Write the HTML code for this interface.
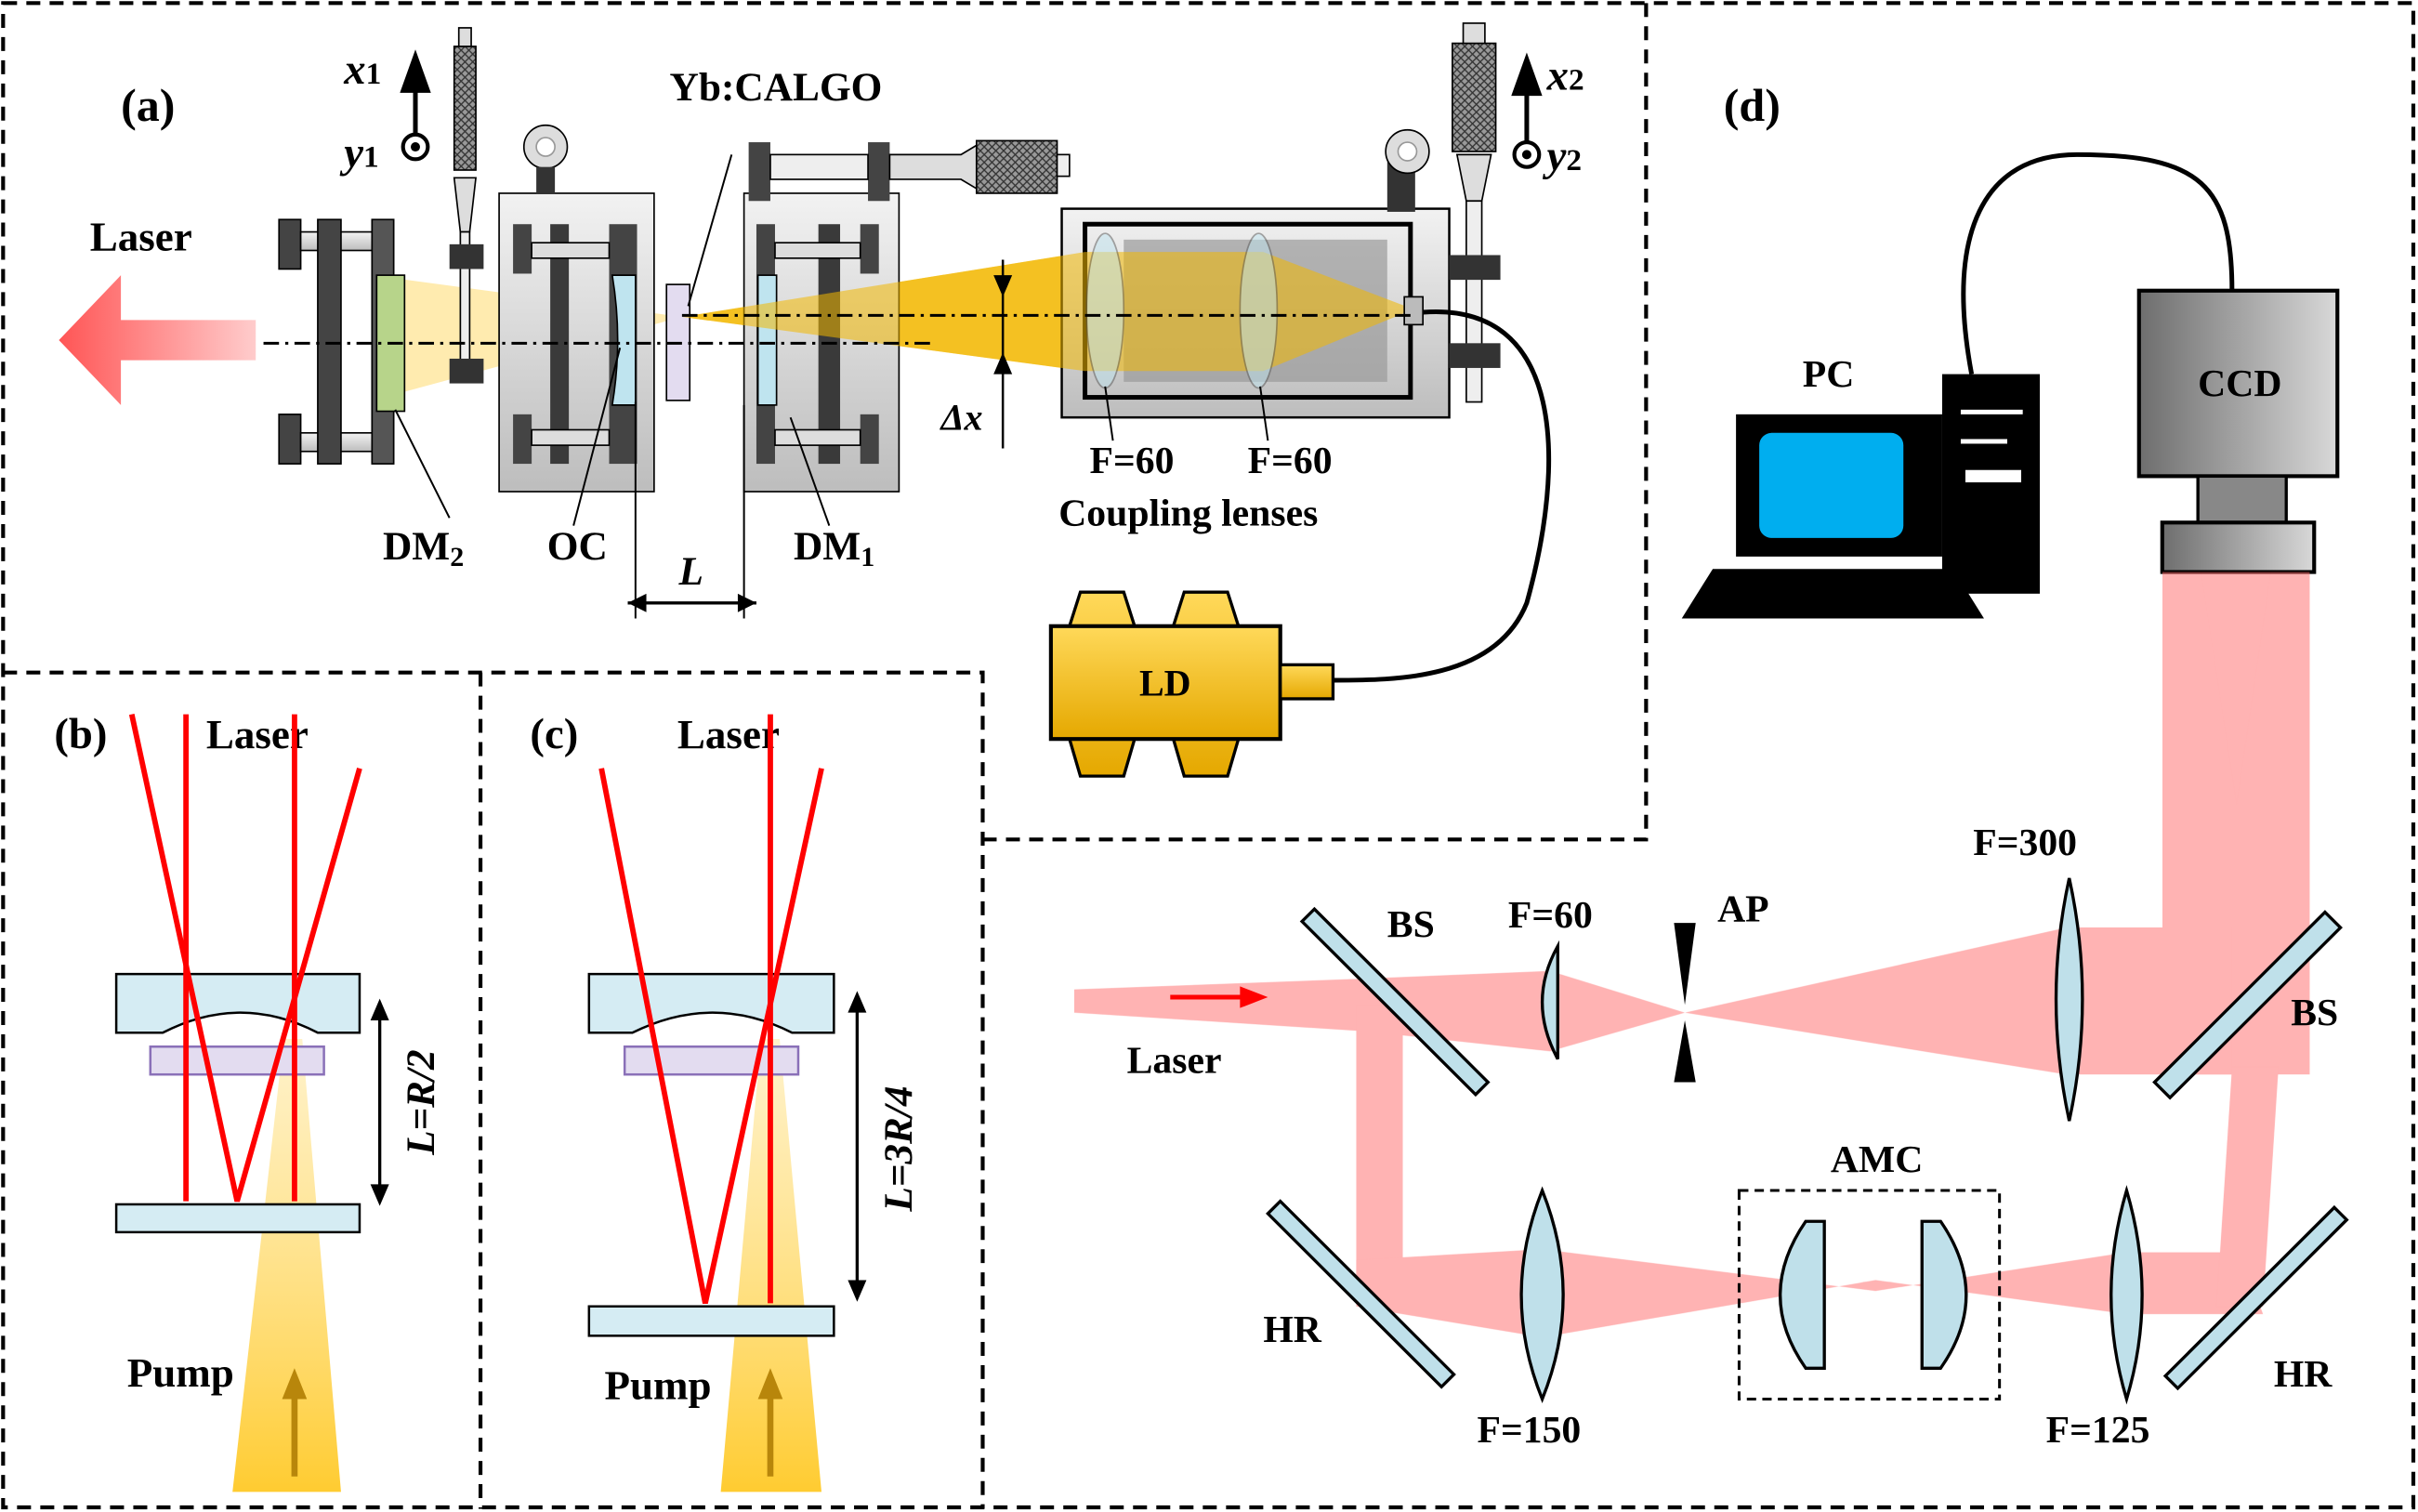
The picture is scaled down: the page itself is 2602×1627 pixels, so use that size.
<!DOCTYPE html>
<html><head><meta charset="utf-8"><style>
html,body{margin:0;padding:0;background:#fff;}
svg{display:block;}
text{font-family:"Liberation Serif",serif;font-weight:bold;fill:#000;}
</style></head><body>
<svg width="2602" height="1627" viewBox="0 0 1560 978" preserveAspectRatio="none" xmlns="http://www.w3.org/2000/svg">
<defs>
<linearGradient id="gy" x1="0" y1="0" x2="0" y2="1"><stop offset="0" stop-color="#f2f2f2"/><stop offset="1" stop-color="#bdbdbd"/></linearGradient>
<linearGradient id="ccd" x1="0" y1="0" x2="1" y2="0"><stop offset="0" stop-color="#6e6e6e"/><stop offset="1" stop-color="#d8d8d8"/></linearGradient>
<linearGradient id="arr" x1="0" y1="0" x2="1" y2="0"><stop offset="0" stop-color="#f55"/><stop offset="1" stop-color="#fcc"/></linearGradient>
<linearGradient id="pump" x1="0" y1="1" x2="0" y2="0"><stop offset="0" stop-color="#ffc61a" stop-opacity="0.9"/><stop offset="1" stop-color="#ffe28a" stop-opacity="0.45"/></linearGradient>
<linearGradient id="ld" x1="0" y1="0" x2="0" y2="1"><stop offset="0" stop-color="#ffd95a"/><stop offset="1" stop-color="#e5a800"/></linearGradient>
<pattern id="knurl" width="5" height="5" patternUnits="userSpaceOnUse"><rect width="5" height="5" fill="#999"/><path d="M0 0L5 5M5 0L0 5" stroke="#333" stroke-width="0.8"/></pattern>
</defs>
<g fill="none" stroke="#000" stroke-width="2.5" stroke-dasharray="9,6">
<rect x="2" y="2" width="1555" height="973"/>
<path d="M1062 2V543H634"/><path d="M2 435H634V976"/><path d="M310 435V976"/>
</g>

<!-- Panel (a) -->
<text x="78" y="78" font-size="30">(a)</text>
<text x="58" y="162" font-size="27">Laser</text>
<path d="M165 207H78V178L38 220L78 262V233H165Z" fill="url(#arr)"/>
<path d="M255 180L440 205L255 255Z" fill="#ffd24d" opacity="0.45"/>
<path d="M440 205L700 163H815L912 200L815 240H700Z" fill="#f3b800" opacity="0.7"/>
<rect x="180" y="142" width="14" height="32" fill="#444" stroke="#000"/><rect x="180" y="268" width="14" height="32" fill="#444" stroke="#000"/>
<rect x="194" y="150" width="50" height="12" fill="url(#gy)" stroke="#000"/><rect x="194" y="280" width="50" height="12" fill="url(#gy)" stroke="#000"/>
<rect x="205" y="142" width="15" height="158" fill="#444" stroke="#000"/>
<rect x="240" y="142" width="14" height="158" fill="#555" stroke="#000"/>
<rect x="243" y="178" width="18" height="88" fill="#b7d48a" stroke="#000"/>
<rect x="293" y="30" width="14" height="80" fill="url(#knurl)" stroke="#000"/>
<rect x="296" y="18" width="8" height="12" fill="#ddd" stroke="#000"/>
<path d="M293 115L307 115L303 150H297Z" fill="#ddd" stroke="#000"/>
<rect x="297" y="150" width="6" height="90" fill="#eee" stroke="#000"/>
<rect x="290" y="158" width="22" height="16" fill="#333"/><rect x="290" y="232" width="22" height="16" fill="#333"/>
<rect x="322" y="125" width="100" height="193" fill="url(#gy)" stroke="#000"/>
<circle cx="352" cy="95" r="14" fill="#ddd" stroke="#000"/><circle cx="352" cy="95" r="6" fill="#fff" stroke="#999"/>
<rect x="346" y="108" width="12" height="17" fill="#333"/>
<rect x="331" y="145" width="12" height="32" fill="#444"/><rect x="331" y="268" width="12" height="32" fill="#444"/>
<rect x="355" y="145" width="12" height="155" fill="#3a3a3a"/>
<rect x="393" y="145" width="18" height="155" fill="#444"/>
<rect x="343" y="157" width="50" height="10" fill="#ddd" stroke="#000"/><rect x="343" y="278" width="50" height="10" fill="#ddd" stroke="#000"/>
<path d="M395 178H410V262H395Q402 220 395 178Z" fill="#bfe4ef" stroke="#000"/>
<rect x="430" y="184" width="15" height="75" fill="#e3dcf0" stroke="#000"/>
<rect x="480" y="125" width="100" height="193" fill="url(#gy)" stroke="#000"/>
<rect x="483" y="92" width="14" height="38" fill="#444"/><rect x="560" y="92" width="14" height="38" fill="#444"/>
<rect x="497" y="100" width="63" height="16" fill="#eee" stroke="#000"/>
<path d="M574 100H620L630 94V122L620 116H574Z" fill="#ddd" stroke="#000"/>
<rect x="630" y="91" width="52" height="34" fill="url(#knurl)" stroke="#000"/>
<rect x="682" y="100" width="8" height="14" fill="#eee" stroke="#000"/>
<rect x="488" y="145" width="12" height="155" fill="#444"/><rect x="528" y="145" width="14" height="155" fill="#3a3a3a"/><rect x="555" y="145" width="12" height="32" fill="#444"/><rect x="555" y="268" width="12" height="32" fill="#444"/>
<rect x="500" y="157" width="55" height="10" fill="#ddd" stroke="#000"/><rect x="500" y="278" width="55" height="10" fill="#ddd" stroke="#000"/>
<rect x="489" y="178" width="12" height="84" fill="#bfe4ef" stroke="#000"/>
<rect x="685" y="135" width="250" height="135" fill="url(#gy)" stroke="#000" stroke-width="1.5"/>
<rect x="700" y="145" width="210" height="112" fill="none" stroke="#000" stroke-width="3"/>
<rect x="725" y="155" width="170" height="92" fill="#9a9a9a" opacity="0.7"/>
<path d="M440 205L700 163H815L912 200L815 240H700Z" fill="#f3b800" opacity="0.55"/>
<ellipse cx="713" cy="201" rx="12" ry="50" fill="#bfe4ef" opacity="0.5" stroke="#555"/>
<ellipse cx="812" cy="201" rx="12" ry="50" fill="#bfe4ef" opacity="0.5" stroke="#555"/>
<rect x="906" y="192" width="12" height="18" fill="#bbb" stroke="#000"/>
<rect x="895" y="95" width="18" height="42" fill="#333"/><circle cx="908" cy="98" r="14" fill="#ddd" stroke="#000"/><circle cx="908" cy="98" r="6" fill="#fff" stroke="#999"/>
<rect x="937" y="28" width="28" height="70" fill="url(#knurl)" stroke="#000"/><rect x="944" y="15" width="14" height="13" fill="#ddd" stroke="#000"/>
<path d="M940 100H962L956 130H946Z" fill="#ddd" stroke="#000"/><rect x="946" y="130" width="10" height="130" fill="#eee" stroke="#000"/>
<rect x="935" y="165" width="33" height="16" fill="#333"/><rect x="935" y="222" width="33" height="16" fill="#333"/>
<path d="M170 222H600" stroke="#000" stroke-width="1.8" stroke-dasharray="10,4,2,4"/>
<path d="M440 204H912" stroke="#000" stroke-width="1.8" stroke-dasharray="10,4,2,4"/>
<path d="M647 168V290" stroke="#000" stroke-width="1.5"/>
<path d="M641 178L647 192L653 178Z M641 242L647 228L653 242Z"/>
<text x="607" y="278" font-size="24" font-style="italic">Δx</text>
<path d="M918 202C1010 195 1010 300 985 390C965 440 900 440 860 440" fill="none" stroke="#000" stroke-width="3"/>
<path d="M690 405L697 383H725L732 405Z M757 405L764 383H792L799 405Z M690 478L697 502H725L732 478Z M757 478L764 502H792L799 478Z" fill="url(#ld)" stroke="#000" stroke-width="2"/>
<rect x="678" y="405" width="148" height="73" fill="url(#ld)" stroke="#000" stroke-width="2.5"/>
<rect x="826" y="430" width="34" height="22" fill="url(#ld)" stroke="#000" stroke-width="2"/>
<text x="735" y="450" font-size="24">LD</text>
<path d="M268 100V55" stroke="#000" stroke-width="3"/><path d="M258 60L268 32L278 60Z"/>
<circle cx="268" cy="95" r="8" fill="#fff" stroke="#000" stroke-width="2.5"/><circle cx="268" cy="95" r="3"/>
<text x="222" y="54" font-size="28" font-style="italic">x<tspan font-size="20" font-style="normal">1</tspan></text>
<text x="222" y="108" font-size="28" font-style="italic">y<tspan font-size="20" font-style="normal">1</tspan></text>
<path d="M985 92V55" stroke="#000" stroke-width="3"/><path d="M975 62L985 34L995 62Z"/>
<circle cx="985" cy="100" r="8" fill="#fff" stroke="#000" stroke-width="2.5"/><circle cx="985" cy="100" r="3"/>
<text x="998" y="58" font-size="28" font-style="italic">x<tspan font-size="20" font-style="normal">2</tspan></text>
<text x="998" y="110" font-size="28" font-style="italic">y<tspan font-size="20" font-style="normal">2</tspan></text>
<g stroke="#000" stroke-width="1.2"><path d="M255 265L290 335M400 225L370 340M410 260V400M480 262V400M510 270L535 340M444 198L472 100M713 250L718 285M813 250L818 285"/></g>
<path d="M405 390H488" stroke="#000" stroke-width="2"/><path d="M405 390l12-6v12Z M488 390l-12-6v12Z"/>
<text x="432" y="65" font-size="26">Yb:CALGO</text>
<text x="247" y="362" font-size="26">DM<tspan font-size="18" dy="4">2</tspan></text>
<text x="353" y="362" font-size="26">OC</text>
<text x="512" y="362" font-size="26">DM<tspan font-size="18" dy="4">1</tspan></text>
<text x="438" y="378" font-size="26" font-style="italic">L</text>
<text x="703" y="306" font-size="25">F=60</text>
<text x="805" y="306" font-size="25">F=60</text>
<text x="683" y="340" font-size="25">Coupling lenses</text>

<!-- Panel (b) -->
<text x="35" y="484" font-size="28">(b)</text>
<text x="133" y="484" font-size="27">Laser</text>
<path d="M183 672L195 672L220 965L150 965Z" fill="url(#pump)"/>
<path d="M75 630H232V668H205Q155 642 105 668H75Z" fill="#d5ecf3" stroke="#000" stroke-width="1.5"/>
<rect x="97" y="677" width="112" height="18" fill="#e3dcf0" stroke="#8a70b8" stroke-width="1.5"/>
<rect x="75" y="779" width="157" height="18" fill="#d5ecf3" stroke="#000" stroke-width="1.5"/>
<g stroke="#f00" stroke-width="3.5" fill="none"><path d="M85 462L153 777L232 497"/><path d="M120 462V777M190 462V777"/></g>
<path d="M190 955V900" stroke="#b8860b" stroke-width="4"/><path d="M182 905L190 885L198 905Z" fill="#b8860b"/>
<text x="82" y="897" font-size="27">Pump</text>
<path d="M245 650V776" stroke="#000" stroke-width="2"/><path d="M239 660L245 646L251 660Z M239 766L245 780L251 766Z"/>
<text transform="translate(280,713) rotate(-90)" font-size="26" font-style="italic" text-anchor="middle">L=R/2</text>

<!-- Panel (c) -->
<text x="342" y="484" font-size="28">(c)</text>
<text x="437" y="484" font-size="27">Laser</text>
<path d="M491 672L503 672L530 965L465 965Z" fill="url(#pump)"/>
<path d="M380 630H538V668H511Q460 642 408 668H380Z" fill="#d5ecf3" stroke="#000" stroke-width="1.5"/>
<rect x="403" y="677" width="112" height="18" fill="#e3dcf0" stroke="#8a70b8" stroke-width="1.5"/>
<rect x="380" y="845" width="158" height="19" fill="#d5ecf3" stroke="#000" stroke-width="1.5"/>
<g stroke="#f00" stroke-width="3.5" fill="none"><path d="M388 497L455 843L530 497"/><path d="M497 462V843"/></g>
<path d="M497 955V900" stroke="#b8860b" stroke-width="4"/><path d="M489 905L497 885L505 905Z" fill="#b8860b"/>
<text x="390" y="905" font-size="27">Pump</text>
<path d="M553 645V838" stroke="#000" stroke-width="2"/><path d="M547 655L553 641L559 655Z M547 828L553 842L559 828Z"/>
<text transform="translate(588,743) rotate(-90)" font-size="26" font-style="italic" text-anchor="middle">L=3R/4</text>

<!-- Panel (d) -->
<text x="1112" y="78" font-size="30">(d)</text>
<path d="M1272 242C1255 150 1280 100 1340 100C1420 100 1440 120 1440 188" fill="none" stroke="#000" stroke-width="3"/>
<rect x="1253" y="242" width="63" height="142" fill="#000"/>
<rect x="1265" y="265" width="40" height="3" fill="#fff"/><rect x="1265" y="284" width="30" height="3" fill="#fff"/><rect x="1268" y="304" width="36" height="8" fill="#fff"/>
<rect x="1120" y="268" width="133" height="92" fill="#000"/>
<rect x="1135" y="280" width="93" height="68" rx="8" fill="#00aeef"/>
<path d="M1105 368H1260L1280 400H1085Z" fill="#000"/>
<text x="1163" y="250" font-size="25">PC</text>
<rect x="1380" y="188" width="128" height="120" fill="url(#ccd)" stroke="#000" stroke-width="2.5"/>
<text x="1418" y="256" font-size="25">CCD</text>
<rect x="1418" y="308" width="57" height="30" fill="#888" stroke="#000" stroke-width="2"/>
<rect x="1395" y="338" width="98" height="32" fill="url(#ccd)" stroke="#000" stroke-width="2.5"/>
<g fill="#f66" opacity="0.5">
<path d="M1395 370H1490V695H1395Z"/>
<path d="M1420 370L1465 370L1443 520Z" opacity="0.5"/>
<path d="M693 640L880 633L1000 628L1087 655L1000 680L880 667L693 655Z"/>
<path d="M1087 655L1333 600H1440V695H1333Z"/>
<path d="M875 650H905V830H875Z"/>
<path d="M875 815L995 808L1210 835L1372 810H1445L1460 850H1372L1210 828L995 865L875 845Z"/>
<path d="M1440 690H1470L1460 845H1430Z"/>
</g>
<path d="M755 645H805" stroke="#f00" stroke-width="3"/><path d="M800 638L818 645L800 652Z" fill="#f00"/>
<g fill="#bfe0ea" stroke="#000" stroke-width="2">
<path d="M848 588L960 700L952 708L840 596Z"/>
<path d="M1500 590L1510 600L1400 710L1390 700Z"/>
<path d="M826 777L938 889L930 897L818 785Z"/>
<path d="M1506 781L1514 789L1405 898L1397 890Z"/>
<path d="M1005 612Q985 648 1005 685Z"/>
<path d="M1335 568Q1352 646 1335 725Q1318 646 1335 568Z"/>
<path d="M995 770Q1022 838 995 905Q968 838 995 770Z"/>
<path d="M1372 770Q1392 838 1372 905Q1352 838 1372 770Z"/>
<path d="M1177 790V885H1165Q1132 838 1165 790Z"/>
<path d="M1240 790V885H1252Q1285 838 1252 790Z"/>
</g>
<path d="M1080 597L1094 597L1087 650Z M1080 700L1094 700L1087 660Z"/>
<rect x="1122" y="770" width="168" height="135" fill="none" stroke="#000" stroke-width="1.8" stroke-dasharray="6,4"/>
<g font-size="25">
<text x="895" y="606">BS</text>
<text x="973" y="600">F=60</text>
<text x="1108" y="596">AP</text>
<text x="1273" y="553">F=300</text>
<text x="1478" y="663">BS</text>
<text x="727" y="694">Laser</text>
<text x="1181" y="758">AMC</text>
<text x="815" y="868">HR</text>
<text x="953" y="933">F=150</text>
<text x="1320" y="933">F=125</text>
<text x="1467" y="897">HR</text>
</g>
</svg>
</body></html>
